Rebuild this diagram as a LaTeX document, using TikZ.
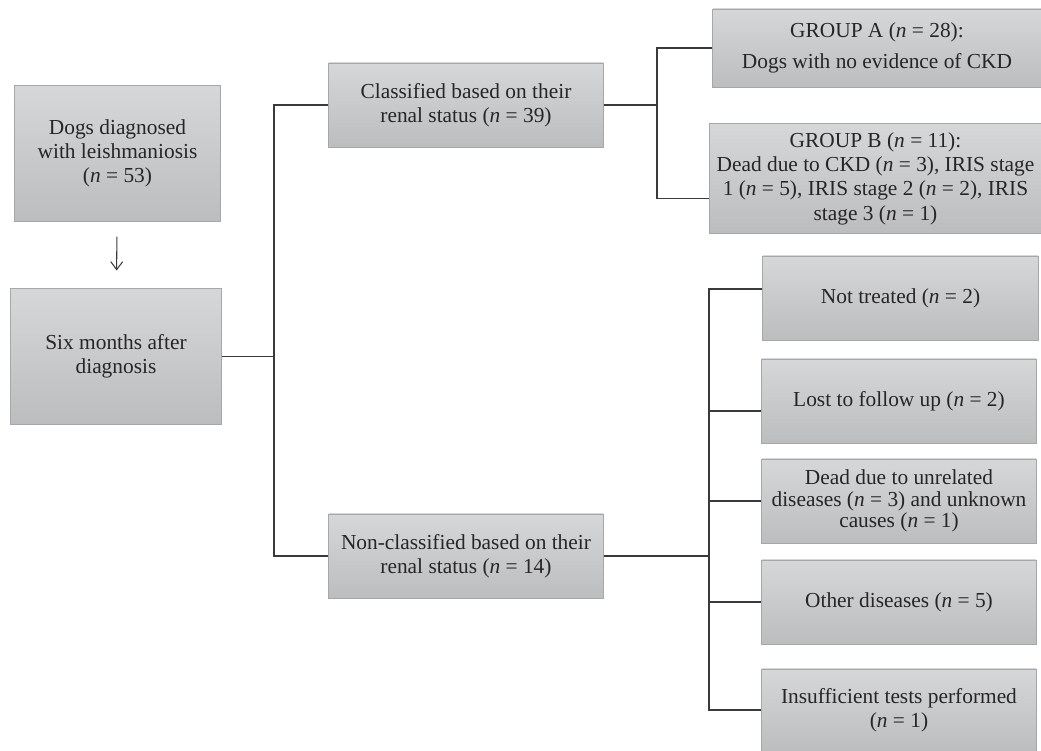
\documentclass[tikz,border=0pt]{standalone}
\usepackage{fontspec}
\setmainfont{Liberation Serif}
\usetikzlibrary{arrows.meta}
\definecolor{boxtop}{HTML}{D6D7D9}
\definecolor{boxbot}{HTML}{BCBDBF}
\definecolor{boxline}{HTML}{A6A7A9}
\definecolor{wire}{HTML}{3A3A3A}
\begin{document}
\begin{tikzpicture}[x=0.025cm, y=-0.025cm,
  box/.style={draw=boxline, line width=0.7pt, top color=boxtop, bottom color=boxbot,
    inner sep=0pt, align=center, font=\fontsize{15.2}{17.3}\selectfont, text=black!85},
  wire/.style={draw=wire, line width=0.75pt}]
\useasboundingbox (0,0) rectangle (1041,751);
\node[box, minimum width=5.125cm, minimum height=3.375cm](dogs) at(117.5,153.5){Dogs diagnosed\\with leishmaniosis\\(\textit{n} = 53)};
\node[box, minimum width=5.25cm, minimum height=3.375cm](six) at(116,356.5){Six months after\\diagnosis};
\draw[wire, -{Straight Barb[length=2mm, width=3mm]}, shorten <=0.375cm, shorten >=0.45cm](dogs)--(six);
\node[box, minimum width=6.85cm, minimum height=2.1cm](class) at(466,105){Classified based on their\\renal status (\textit{n} = 39)};
\node[box, minimum width=6.85cm, minimum height=2.1cm](nonclass) at(466,556){Non-classified based on their\\renal status (\textit{n} = 14)};
\node[box, minimum width=8.2cm, minimum height=1.95cm](grpA) at(877,48){GROUP A (\textit{n} = 28):\\[0.15cm]Dogs with no evidence of CKD};
\node[box, minimum width=8.275cm, minimum height=2.725cm](grpB) at(875.5,178.5){GROUP B (\textit{n} = 11):\\Dead due to CKD (\textit{n} = 3), IRIS stage\\1 (\textit{n} = 5), IRIS stage 2 (\textit{n} = 2), IRIS\\stage 3 (\textit{n} = 1)};
\node[box, minimum width=6.875cm, minimum height=2.1cm](nt) at(900.5,298){Not treated (\textit{n} = 2)};
\node[box, minimum width=6.85cm, minimum height=2.1cm](lost) at(899,401){Lost to follow up (\textit{n} = 2)};
\node[box, minimum width=6.85cm, minimum height=2.1cm, font=\fontsize{15.2}{15.5}\selectfont](dead) at(899,501){Dead due to unrelated\\diseases (\textit{n} = 3) and unknown\\causes (\textit{n} = 1)};
\node[box, minimum width=6.85cm, minimum height=2.1cm](other) at(899,602){Other diseases (\textit{n} = 5)};
\node[box, minimum width=6.85cm, minimum height=2.05cm](insuf) at(899,710){Insufficient tests performed\\(\textit{n} = 1)};
\coordinate(jl) at(274,0);
\coordinate(jr) at(657,0);
\coordinate(jb) at(709,0);
\draw[wire](six.east)--(six.east -| jl);
\draw[wire](class.west)--(class.west -| jl)|-(nonclass.west);
\draw[wire](class.east)--(class.east -| jr);
\draw[wire](grpA.west)--(grpA.west -| jr)|-([yshift=-0.5cm]grpB.west);
\draw[wire](nonclass.east)--(nonclass.east -| jb);
\draw[wire]([yshift=0.225cm]nt.west)--([yshift=0.225cm]nt.west -| jb)|-(insuf.west);
\draw[wire]([yshift=-0.25cm]lost.west)--([yshift=-0.25cm]lost.west -| jb);
\draw[wire](dead.west)--(dead.west -| jb);
\draw[wire](other.west)--(other.west -| jb);
\end{tikzpicture}
\end{document}
